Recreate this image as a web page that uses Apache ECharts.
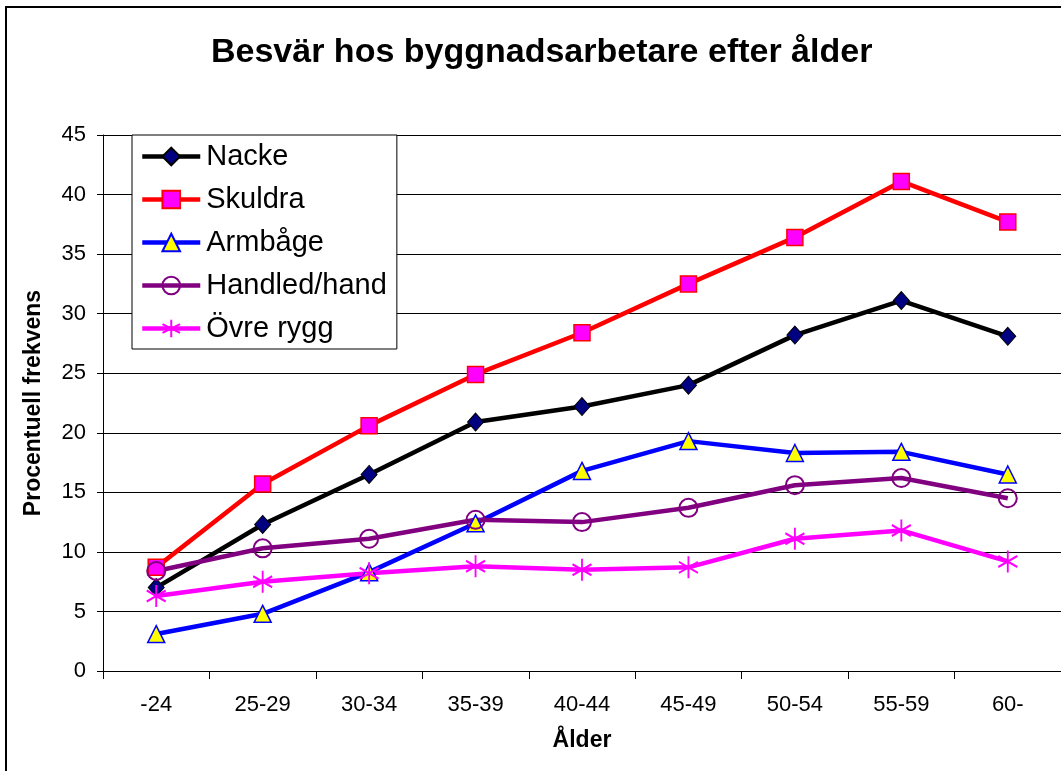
<!DOCTYPE html>
<html>
<head>
<meta charset="utf-8">
<script src="https://cdn.jsdelivr.net/npm/echarts@6/dist/echarts.min.js"></script>
<style>
html,body{margin:0;padding:0;background:#fff;}
#chart{width:1061px;height:771px;}
</style>
</head>
<body>
<div id="chart"></div>
<script>
const categories = ['-24','25-29','30-34','35-39','40-44','45-49','50-54','55-59','60-'];
const nacke   = [7.0, 12.3, 16.5, 20.9, 22.2, 24.0, 28.2, 31.1, 28.1];
const skuldra = [8.7, 15.7, 20.6, 24.9, 28.4, 32.5, 36.4, 41.1, 37.7];
const armbage = [3.1, 4.8, 8.3, 12.4, 16.8, 19.3, 18.3, 18.4, 16.5];
const handled = [8.4, 10.3, 11.1, 12.7, 12.5, 13.7, 15.6, 16.2, 14.5];
const ovreRygg = [6.3, 7.5, 8.2, 8.8, 8.5, 8.7, 11.1, 11.8, 9.2];
const seriesNames = ['Nacke','Skuldra','Armbåge','Handled/hand','Övre rygg'];
const titleText = 'Besvär hos byggnadsarbetare efter ålder';
const yName = 'Procentuell frekvens';
const xName = 'Ålder';

const FONT = 'Liberation Sans, Arial, sans-serif';
const asterisk = 'path://M0,-10L0,10M-8.66,-5L8.66,5M-8.66,5L8.66,-5';

const chart = echarts.init(document.getElementById('chart'), null, {renderer:'canvas'});
function mk(name, data, lineColor, symbol, size, fill, border, bw){
  return {
    name: name, type: 'line', data: data,
    symbol: symbol, symbolSize: size,
    lineStyle: {color: lineColor, width: 4.5},
    itemStyle: {color: fill, borderColor: border, borderWidth: bw},
    emphasis: {disabled: true},
    animation: false
  };
}
chart.setOption({
  backgroundColor: '#fff',
  animation: false,
  title: {
    text: titleText, left: 206, top: 31,
    textStyle: {fontFamily: FONT, fontSize: 34, fontWeight: 'bold', color: '#000'}
  },
  graphic: [{
    type: 'rect', shape: {x: 6, y: 7, width: 1200, height: 900},
    style: {fill: 'none', stroke: '#000', lineWidth: 2}, z: 100, silent: true
  }],
  grid: {left: 103, top: 135, width: 966, height: 536, containLabel: false},
  legend: {
    orient: 'vertical', left: 132, top: 135,
    data: seriesNames,
    backgroundColor: '#fff', borderColor: '#000', borderWidth: 1,
    padding: [7, 10, 6, 8],
    itemWidth: 58, itemHeight: 22, itemGap: 14,
    lineStyle: {width: 4.5},
    textStyle: {fontFamily: FONT, fontSize: 29, color: '#000', padding: [0,0,0,1]},
    z: 10
  },
  xAxis: {
    type: 'category', data: categories, boundaryGap: true,
    name: xName, nameLocation: 'middle', nameGap: 58,
    nameTextStyle: {fontFamily: FONT, fontSize: 23, fontWeight: 'bold', color: '#000'},
    axisLine: {show: true, lineStyle: {color: '#000', width: 1}},
    axisTick: {show: true, length: 8, interval: 0, lineStyle: {color: '#000'}},
    axisLabel: {fontFamily: FONT, fontSize: 22, color: '#000', margin: 23, interval: 0},
    splitLine: {show: false}
  },
  yAxis: {
    type: 'value', min: 0, max: 45, interval: 5,
    name: yName, nameLocation: 'middle', nameGap: 58, nameRotate: 90,
    nameTextStyle: {fontFamily: FONT, fontSize: 23, fontWeight: 'bold', color: '#000'},
    axisLine: {show: true, lineStyle: {color: '#000', width: 1}},
    axisTick: {show: true, length: 6, lineStyle: {color: '#000'}},
    axisLabel: {fontFamily: FONT, fontSize: 22, color: '#000', margin: 17},
    splitLine: {show: true, lineStyle: {color: '#000', width: 1}}
  },
  series: [
    mk(seriesNames[0], nacke, '#000000', 'diamond', [16, 18], '#000080', '#000000', 1),
    mk(seriesNames[1], skuldra, '#ff0000', 'rect', 16, '#ff00ff', '#ff0000', 1.5),
    mk(seriesNames[2], armbage, '#0000ff', 'triangle', 17, '#ffff00', '#0000ff', 1.5),
    mk(seriesNames[3], handled, '#800080', 'circle', 18, 'rgba(255,255,255,0)', '#800080', 2),
    mk(seriesNames[4], ovreRygg, '#ff00ff', asterisk, [19, 22], 'rgba(0,0,0,0)', '#ff00ff', 2)
  ]
});
</script>
</body>
</html>
